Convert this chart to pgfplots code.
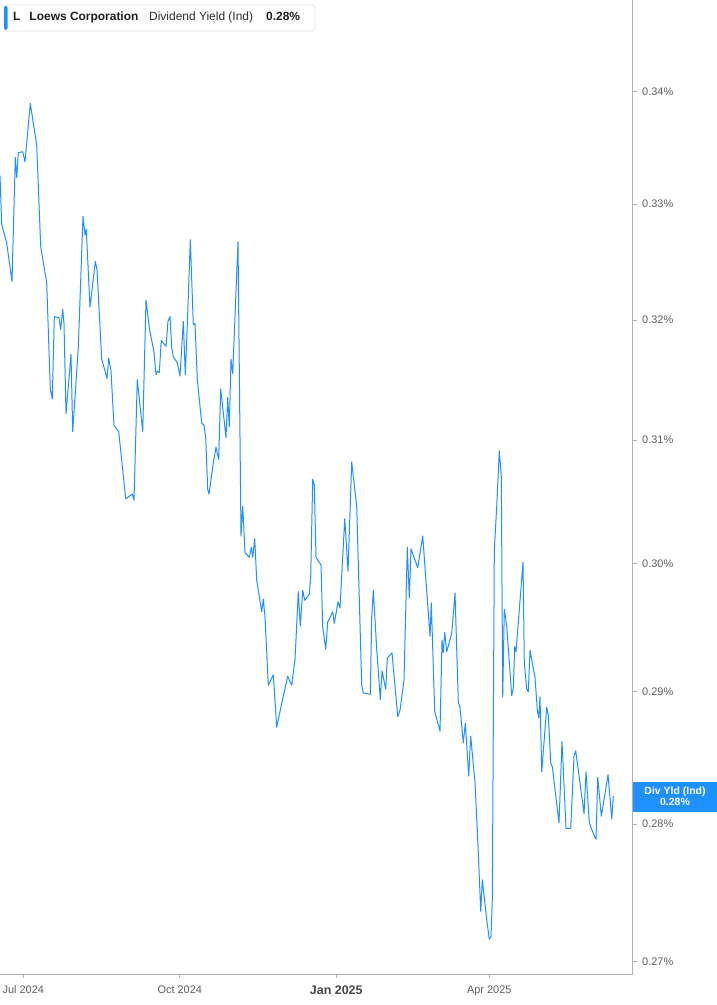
\documentclass[border=0pt]{standalone}
\usepackage{pgfplots}
\pgfplotsset{compat=1.18}
\usepackage{fontspec}
\setmainfont{Liberation Sans}

\definecolor{lineblue}{RGB}{30,144,255}
\definecolor{axisgray}{RGB}{178,178,178}
\definecolor{labelgray}{RGB}{95,95,95}
\definecolor{boxborder}{RGB}{228,228,228}

\begin{document}
\begin{tikzpicture}[x=1bp,y=1bp]
  \useasboundingbox (0,-31) rectangle (717,974);
  \begin{axis}[
    at={(0,0)}, anchor=south west,
    scale only axis,
    width=632.7bp,
    height=974bp,
    xmin=-13.7, xmax=358.32,
    ymode=log,
    ymin=0.26911, ymax=0.34831,
    axis x line*=bottom,
    axis y line*=right,
    axis line style={axisgray, line width=0.8bp, -},
    tick style={axisgray, line width=0.8bp},
    tick align=outside,
    major tick length=4bp,
    xtick={0,92,184,274},
    xticklabels={Jul 2024, Oct 2024, {\raisebox{-2bp}{\fontsize{12.5}{14}\selectfont\bfseries\color{black!72}Jan 2025}}, Apr 2025},
    ytick={0.27,0.28,0.29,0.30,0.31,0.32,0.33,0.34},
    yticklabels={0.27\%,0.28\%,0.29\%,0.30\%,0.31\%,0.32\%,0.33\%,0.34\%},
    ticklabel style={font=\fontsize{11}{13}\selectfont, text=labelgray},
    xticklabel style={yshift=-4bp},
    yticklabel style={anchor=west, xshift=2bp},
    minor tick num=0,
  ]

    % Dividend yield (%), x = days since 1 Jul 2024
    \addplot[color=lineblue, line width=1bp, line join=round] coordinates {
      (-13.70, 0.3325) (-12.70, 0.3282) (-9.76, 0.3266) (-6.64, 0.3233)
      (-4.70, 0.3341) (-3.88, 0.3323) (-2.94, 0.3345) (-0.35, 0.3346)
      (1.00, 0.3337) (4.12, 0.3389) (7.88, 0.3352) (10.23, 0.3263)
      (13.76, 0.3232) (15.88, 0.3142) (17.05, 0.3134) (18.23, 0.3203)
      (20.99, 0.3202) (21.99, 0.3192) (23.17, 0.3209) (23.93, 0.3197)
      (25.11, 0.3122) (28.05, 0.3171) (29.05, 0.3107) (32.34, 0.3177)
      (35.10, 0.3289) (36.28, 0.3273) (37.04, 0.3278) (39.22, 0.3211)
      (42.34, 0.3250) (43.34, 0.3243) (46.10, 0.3167) (49.22, 0.3151)
      (50.22, 0.3168) (51.57, 0.3157) (53.33, 0.3112) (56.10, 0.3107)
      (60.21, 0.3052) (64.09, 0.3056) (65.09, 0.3051) (67.03, 0.3150)
      (70.21, 0.3107) (72.15, 0.3217) (74.21, 0.3192) (76.85, 0.3173)
      (78.03, 0.3154) (78.79, 0.3157) (79.97, 0.3156) (81.14, 0.3183)
      (83.91, 0.3178) (85.08, 0.3199) (86.26, 0.3203) (87.26, 0.3177)
      (88.20, 0.3169) (90.55, 0.3164) (92.14, 0.3153) (94.08, 0.3199)
      (95.25, 0.3154) (96.43, 0.3196) (98.20, 0.3269) (99.96, 0.3196)
      (100.96, 0.3197) (102.31, 0.3150) (104.90, 0.3114) (106.25, 0.3112)
      (107.25, 0.3102) (108.43, 0.3060) (109.19, 0.3056) (111.72, 0.3081)
      (113.31, 0.3094) (114.89, 0.3084) (116.07, 0.3142) (119.19, 0.3102)
      (120.19, 0.3135) (121.13, 0.3111) (122.13, 0.3167) (123.13, 0.3155)
      (126.24, 0.3267) (128.01, 0.3022) (129.01, 0.3046) (130.36, 0.3009)
      (132.89, 0.3005) (134.06, 0.3013) (134.89, 0.3005) (136.06, 0.3020)
      (137.24, 0.2987) (140.18, 0.2962) (141.12, 0.2972) (142.12, 0.2958)
      (144.06, 0.2905) (147.00, 0.2913) (149.00, 0.2873) (151.94, 0.2891)
      (155.47, 0.2912) (157.82, 0.2905) (159.76, 0.2925) (161.70, 0.2978)
      (162.88, 0.2951) (164.29, 0.2979) (165.47, 0.2971) (168.17, 0.2976)
      (168.99, 0.2990) (170.17, 0.3068) (171.11, 0.3063) (172.11, 0.3005)
      (175.05, 0.2999) (176.05, 0.2950) (177.81, 0.2933) (178.99, 0.2954)
      (181.93, 0.2962) (182.87, 0.2953) (185.05, 0.2970) (186.22, 0.2965)
      (188.99, 0.3036) (190.93, 0.2994) (193.10, 0.3082) (196.04, 0.3046)
      (198.98, 0.2905) (199.92, 0.2899) (204.04, 0.2898) (204.86, 0.2958)
      (205.80, 0.2979) (207.80, 0.2933) (209.92, 0.2894) (210.92, 0.2916)
      (213.09, 0.2902) (214.03, 0.2926) (216.80, 0.2930) (220.15, 0.2881)
      (221.50, 0.2886) (223.85, 0.2909) (225.79, 0.3013) (226.97, 0.2973)
      (227.97, 0.3012) (231.91, 0.2997) (234.85, 0.3022) (239.14, 0.2943)
      (239.90, 0.2969) (241.90, 0.2885) (245.02, 0.2870) (246.20, 0.2940)
      (246.96, 0.2930) (247.78, 0.2946) (248.96, 0.2931) (251.90, 0.2945)
      (253.84, 0.2977) (255.78, 0.2892) (256.78, 0.2888) (258.72, 0.2861)
      (259.90, 0.2876) (261.90, 0.2836) (263.07, 0.2866) (265.60, 0.2831)
      (267.54, 0.2779) (268.95, 0.2736) (269.89, 0.2759) (272.48, 0.2730)
      (274.01, 0.2716) (275.01, 0.2718) (275.77, 0.2745) (276.95, 0.3011)
      (278.36, 0.3046) (279.88, 0.3091) (281.06, 0.3070) (281.88, 0.2896)
      (282.82, 0.2964) (284.23, 0.2951) (287.17, 0.2897) (288.12, 0.2903)
      (288.94, 0.2935) (289.70, 0.2931) (293.82, 0.3001) (294.58, 0.2922)
      (296.00, 0.2902) (296.94, 0.2900) (297.94, 0.2932) (300.88, 0.2911)
      (302.23, 0.2886) (303.06, 0.2880) (303.82, 0.2896) (304.82, 0.2839)
      (307.76, 0.2888) (308.70, 0.2882) (310.11, 0.2846) (311.05, 0.2843)
      (314.99, 0.2801) (316.75, 0.2862) (319.11, 0.2797) (321.87, 0.2797)
      (323.81, 0.2851) (324.81, 0.2855) (329.69, 0.2808) (330.87, 0.2839)
      (332.81, 0.2801) (336.16, 0.2790) (336.75, 0.2789) (337.75, 0.2835)
      (339.87, 0.2806) (343.81, 0.2837) (345.98, 0.2804) (346.92, 0.2821)
    };
  \end{axis}

  % header box
  \draw[boxborder, fill=white, rounded corners=3bp, line width=0.8bp] (4,943) rectangle (315,969);
  \fill[lineblue, rounded corners=1.5bp] (4,944) rectangle (7.5,968);
  \node[anchor=base west, inner sep=0, font=\fontsize{12}{14}\selectfont\bfseries, text=black!88] at (13,953.5) {L};
  \node[anchor=base west, inner sep=0, font=\fontsize{12}{14}\selectfont\bfseries, text=black!88] at (29.3,953.5) {Loews Corporation};
  \node[anchor=base west, inner sep=0, font=\fontsize{12}{14}\selectfont, text=black!82] at (149,953.5) {Dividend Yield (Ind)};
  \node[anchor=base west, inner sep=0, font=\fontsize{12}{14}\selectfont\bfseries, text=black!88] at (266,953.5) {0.28\%};

  % last value tag
  \fill[lineblue] (633,162) rectangle (717,192);
  \node[anchor=center, inner sep=0, font=\fontsize{10.5}{12}\selectfont\bfseries, text=white] at (675,182.3) {Div Yld (Ind)};
  \node[anchor=center, inner sep=0, font=\fontsize{10.5}{12}\selectfont\bfseries, text=white] at (675,171.7) {0.28\%};
\end{tikzpicture}
\end{document}
